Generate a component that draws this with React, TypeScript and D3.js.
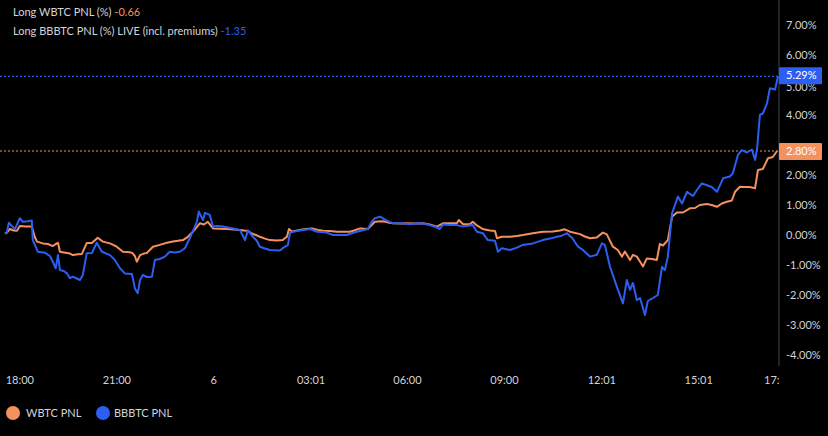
import { useEffect, useRef } from "react";
import * as d3 from "d3";

// hours relative to 18:00 on the first day
const wbtcHours = [
  -0.46, -0.4, -0.31, -0.19, -0.09, 0, 0.19, 0.37, 0.46, 0.53, 0.71, 0.87, 1.02, 1.11, 1.18, 1.24, 1.36, 1.46,
  1.55, 1.64, 1.8, 1.92, 2.07, 2.23, 2.41, 2.57, 2.79, 3.0, 3.19, 3.34, 3.47, 3.56, 3.62, 3.72, 3.84, 3.93, 4.12,
  4.33, 4.55, 4.74, 5.05, 5.2, 5.36, 5.57, 5.7, 5.82, 5.98, 6.19, 6.41, 6.63, 6.81, 6.93, 7.06, 7.18, 7.31, 7.43,
  7.59, 7.74, 7.96, 8.14, 8.27, 8.33, 8.42, 8.67, 8.85, 9.04, 9.23, 9.38, 9.6, 9.81, 10.03, 10.22, 10.37, 10.53,
  10.77, 10.99, 11.24, 11.39, 11.55, 11.76, 11.98, 12.23, 12.48, 12.69, 12.91, 13.1, 13.31, 13.53, 13.59, 13.72,
  13.93, 14.02, 14.15, 14.33, 14.55, 14.71, 14.77, 14.92, 15.17, 15.39, 15.57, 15.88, 16.19, 16.5, 16.72, 16.87,
  17.03, 17.34, 17.49, 17.65, 17.86, 18.05, 18.17, 18.36, 18.51, 18.64, 18.73, 18.89, 18.98, 19.1, 19.23, 19.29,
  19.41, 19.57, 19.72, 19.81, 19.91, 20.06, 20.19, 20.34, 20.53, 20.74, 20.9, 21.05, 21.27, 21.42, 21.58, 21.73,
  21.89, 22.04, 22.14, 22.29, 22.45, 22.6, 22.76, 22.85, 23.0, 23.16, 23.31, 23.44,
];
const wbtcPnl = [
  0.05, 0.08, 0.2, 0.15, 0.14, 0.3, 0.28, 0.28, -0.06, -0.22, -0.28, -0.3, -0.37, -0.3, -0.26, -0.56, -0.58, -0.6,
  -0.62, -0.67, -0.64, -0.63, -0.27, -0.27, -0.09, -0.22, -0.28, -0.39, -0.56, -0.57, -0.59, -0.7, -0.89, -0.67,
  -0.62, -0.6, -0.39, -0.33, -0.26, -0.22, -0.17, -0.06, 0.11, 0.39, 0.35, 0.44, 0.22, 0.21, 0.2, 0.18, 0.17, 0.15,
  0.14, 0.05, 0.0, -0.06, -0.12, -0.17, -0.18, -0.17, -0.05, 0.2, 0.12, 0.17, 0.2, 0.22, 0.17, 0.14, 0.13, 0.11,
  0.11, 0.11, 0.16, 0.22, 0.2, 0.44, 0.46, 0.42, 0.39, 0.38, 0.39, 0.38, 0.39, 0.35, 0.28, 0.39, 0.39, 0.39, 0.5,
  0.36, 0.36, 0.44, 0.32, 0.2, 0.15, 0.13, -0.11, -0.06, -0.06, -0.03, 0.0, 0.06, 0.11, 0.12, 0.15, 0.19, 0.11,
  0.03, -0.05, -0.11, -0.08, 0.08, 0.02, -0.39, -0.5, -0.72, -0.55, -0.83, -0.66, -0.72, -0.94, -1.05, -0.78, -0.8,
  -0.83, -0.3, -0.35, -0.17, 0.61, 0.75, 0.75, 0.89, 0.9, 1.0, 1.03, 1.0, 0.94, 1.05, 1.11, 1.15, 1.44, 1.61, 1.6,
  1.6, 1.56, 2.17, 2.2, 2.56, 2.6, 2.8,
];

const bbbtcHours = [
  -0.46, -0.4, -0.34, -0.25, -0.15, 0, 0.09, 0.25, 0.37, 0.4, 0.56, 0.77, 0.93, 1.02, 1.11, 1.18, 1.24, 1.36, 1.46,
  1.55, 1.64, 1.76, 1.86, 1.95, 2.07, 2.23, 2.38, 2.54, 2.79, 2.94, 3.1, 3.25, 3.47, 3.56, 3.65, 3.72, 3.81, 3.93,
  4.09, 4.18, 4.33, 4.49, 4.64, 4.8, 4.95, 5.11, 5.26, 5.48, 5.54, 5.67, 5.73, 5.88, 5.98, 6.13, 6.29, 6.44, 6.6,
  6.81, 6.97, 7.06, 7.21, 7.34, 7.43, 7.59, 7.74, 8.05, 8.14, 8.3, 8.36, 8.45, 8.67, 8.98, 9.2, 9.5, 9.69, 9.81,
  10.12, 10.28, 10.43, 10.77, 10.9, 10.99, 11.15, 11.36, 11.55, 11.86, 12.07, 12.29, 12.48, 12.69, 12.91, 13.0,
  13.1, 13.31, 13.53, 13.72, 14.02, 14.15, 14.33, 14.49, 14.71, 14.8, 14.92, 15.17, 15.39, 15.57, 15.88, 16.19,
  16.41, 16.63, 16.78, 16.94, 17.1, 17.28, 17.43, 17.65, 17.86, 18.02, 18.11, 18.27, 18.48, 18.67, 18.79, 18.89,
  18.98, 19.1, 19.2, 19.35, 19.44, 19.6, 19.75, 19.88, 19.97, 20.06, 20.19, 20.28, 20.37, 20.5, 20.65, 20.84,
  20.96, 21.11, 21.27, 21.42, 21.58, 21.77, 21.98, 22.07, 22.23, 22.35, 22.51, 22.66, 22.76, 22.82, 22.91, 23.0,
  23.13, 23.22, 23.38, 23.47,
];
const bbbtcPnl = [
  0.05, 0.1, 0.41, 0.3, 0.2, 0.56, 0.44, 0.46, 0.48, -0.17, -0.56, -0.59, -0.7, -0.89, -1.11, -0.67, -1.17, -1.2,
  -1.28, -1.44, -1.39, -1.45, -1.5, -1.33, -0.61, -0.6, -0.26, -0.56, -0.67, -0.83, -1.11, -1.28, -1.3, -1.78,
  -1.94, -1.5, -1.33, -1.4, -1.39, -0.83, -0.8, -0.72, -0.56, -0.58, -0.56, -0.44, -0.11, 0.44, 0.78, 0.5, 0.74,
  0.67, 0.28, 0.3, 0.28, 0.25, 0.22, 0.17, -0.17, 0.15, -0.05, -0.2, -0.39, -0.45, -0.5, -0.52, -0.44, -0.33, 0.06,
  0.11, 0.15, 0.2, 0.11, 0.08, 0.0, 0.0, 0.0, 0.06, 0.11, 0.2, 0.45, 0.56, 0.61, 0.48, 0.39, 0.39, 0.36, 0.39,
  0.38, 0.33, 0.25, 0.2, 0.35, 0.33, 0.33, 0.28, 0.33, 0.11, 0.06, -0.17, -0.19, -0.56, -0.44, -0.5, -0.42, -0.33,
  -0.28, -0.17, -0.12, -0.06, -0.02, 0.06, -0.1, -0.39, -0.5, -0.72, -0.66, -0.28, -0.33, -1.06, -1.72, -2.28,
  -1.5, -1.83, -1.6, -2.17, -2.1, -2.67, -2.2, -2.1, -2.0, -1.06, -1.17, -0.72, 0.72, 1.0, 1.28, 1.05, 1.44, 1.3,
  1.5, 1.72, 1.66, 1.6, 1.44, 1.89, 1.95, 2.05, 2.67, 2.83, 2.75, 2.85, 2.5, 2.85, 4.0, 4.05, 4.39, 4.89, 4.85,
  5.29,
];

const xTickHours = [0, 3, 6, 9.017, 12, 15, 18.017, 21.017];
const xTickLabels = ["18:00", "21:00", "6", "03:01", "06:00", "09:00", "12:01", "15:01"];
// 3.00% sits under the orange price tag in the reference, so it is not shown
const yTicks = [-4, -3, -2, -1, 0, 1, 2, 4, 6, 7];

const W = 828;
const H = 436;
const ORANGE = "#f4915c";
const BLUE = "#2c5ef2";
const TEXT = "#d1d4dc";
const FONT = "Lato, 'Noto Sans', sans-serif";

export default function App() {
  const axisRef = useRef<SVGGElement | null>(null);

  const x = d3.scaleLinear().domain([-0.46, 23.47]).range([5, 778]);
  const y = d3.scaleLinear().domain([-4, 7]).range([355, 25]);
  const axisX = 779;

  const line = d3
    .line<[number, number]>()
    .x((d) => x(d[0]))
    .y((d) => y(d[1]));

  const wbtc = wbtcHours.map((h, i) => [h, wbtcPnl[i]] as [number, number]);
  const bbbtc = bbbtcHours.map((h, i) => [h, bbbtcPnl[i]] as [number, number]);
  const lastW = wbtcPnl[wbtcPnl.length - 1];
  const lastB = bbbtcPnl[bbbtcPnl.length - 1];

  useEffect(() => {
    if (!axisRef.current) return;
    const g = d3.select(axisRef.current);
    g.selectAll("*").remove();
    g.call(
      d3
        .axisRight(y)
        .tickValues(yTicks)
        .tickSize(0)
        .tickPadding(7)
        .tickFormat((d) => `${(d as number).toFixed(2)}%`)
    );
    g.select(".domain").remove();
    g.selectAll("text").attr("fill", TEXT).attr("font-size", 11).attr("font-family", FONT);
  }, []);

  return (
    <div style={{ position: "fixed", left: 0, top: 0 }}>
      <svg width={W} height={H} style={{ display: "block", background: "#000" }}>
        <rect width={W} height={H} fill="#000" />
        <line x1={axisX} x2={axisX} y1={0} y2={366} stroke="#2a2e39" strokeWidth={1.5} />

        <g ref={axisRef} transform={`translate(${axisX},0)`} />
        {/* 5.00% is half covered by the blue price tag */}
        <text x={786} y={y(5) + 2} dy="0.32em" fill={TEXT} fontSize={11} fontFamily={FONT}>
          5.00%
        </text>

        <line x1={0} x2={axisX} y1={y(lastW)} y2={y(lastW)} stroke={ORANGE} strokeWidth={1} strokeDasharray="2 2" />
        <line x1={0} x2={axisX} y1={y(lastB)} y2={y(lastB)} stroke={BLUE} strokeWidth={1.2} strokeDasharray="2 2" />

        <path d={line(wbtc) ?? ""} fill="none" stroke={ORANGE} strokeWidth={2} strokeLinejoin="round" />
        <path d={line(bbbtc) ?? ""} fill="none" stroke={BLUE} strokeWidth={2} strokeLinejoin="round" />

        <rect x={axisX} y={y(lastB) - 9} width={43} height={17} fill={BLUE} rx={1} />
        <text x={786} y={y(lastB) - 1} dy="0.35em" fill="#fff" fontSize={11} fontFamily={FONT}>
          {`${lastB.toFixed(2)}%`}
        </text>
        <rect x={axisX} y={y(lastW) - 8} width={43} height={17} fill={ORANGE} rx={1} />
        <text x={786} y={y(lastW)} dy="0.35em" fill="#fff" fontSize={11} fontFamily={FONT}>
          {`${lastW.toFixed(2)}%`}
        </text>

        {xTickHours.map((h, i) => (
          <text
            key={xTickLabels[i]}
            x={x(h)}
            y={380}
            dy="0.35em"
            textAnchor="middle"
            fill={TEXT}
            fontSize={11}
            fontFamily={FONT}
          >
            {xTickLabels[i]}
          </text>
        ))}
        <text x={764} y={380} dy="0.35em" fill={TEXT} fontSize={11} fontFamily={FONT}>
          17:
        </text>

        <g fontFamily={FONT} fontSize={11}>
          <text x={13} y={12} dy="0.35em" fill={TEXT}>
            Long WBTC PNL (%){" "}
            <tspan fill={ORANGE}>-0.66</tspan>
          </text>
          <text x={13} y={31} dy="0.35em" fill={TEXT}>
            Long BBBTC PNL (%) LIVE (incl. premiums){" "}
            <tspan fill={BLUE}>-1.35</tspan>
          </text>
        </g>

        <g fontFamily={FONT} fontSize={11}>
          <circle cx={13} cy={413} r={7} fill={ORANGE} />
          <text x={26} y={413} dy="0.35em" fill={TEXT}>
            WBTC PNL
          </text>
          <circle cx={103} cy={413} r={7} fill={BLUE} />
          <text x={114} y={413} dy="0.35em" fill={TEXT}>
            BBBTC PNL
          </text>
        </g>
      </svg>
    </div>
  );
}
